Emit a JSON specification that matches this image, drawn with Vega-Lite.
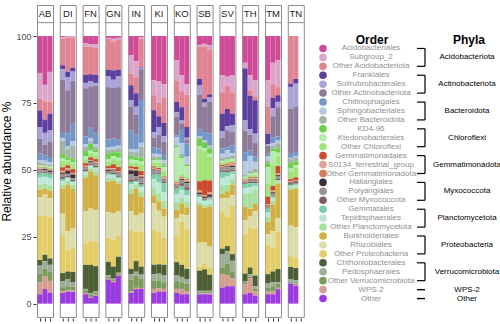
{
"$schema": "https://vega.github.io/schema/vega-lite/v6.json",
"padding": {"left": 0, "top": 4, "right": 0, "bottom": 0},
"config": {"font": "Liberation Sans", "view": {"stroke": "#8c8c8c"}},
"datasets": {
"taxa": [
{"code":"k01","taxon":"Acidobacteriales"},{"code":"k02","taxon":"Subgroup_2"},{"code":"k03","taxon":"Other Acidobacteriota"},
{"code":"k04","taxon":"Frankiales"},{"code":"k05","taxon":"Solirubrobacterales"},{"code":"k06","taxon":"Other Actinobacteriota"},
{"code":"k07","taxon":"Chitinophagales"},{"code":"k08","taxon":"Sphingobacteriales"},{"code":"k09","taxon":"Other Bacteroidota"},
{"code":"k10","taxon":"KD4-96"},{"code":"k11","taxon":"Ktedonobacterales"},{"code":"k12","taxon":"Other Chloroflexi"},
{"code":"k13","taxon":"Gemmatimonadales"},{"code":"k14","taxon":"S0134_terrestrial_group"},{"code":"k15","taxon":"Other Gemmatimonadota"},
{"code":"k16","taxon":"Haliangiales"},{"code":"k17","taxon":"Polyangiales"},{"code":"k18","taxon":"Other Myxococcota"},
{"code":"k19","taxon":"Gemmatales"},{"code":"k20","taxon":"Tepidisphaerales"},{"code":"k21","taxon":"Other Planctomycetota"},
{"code":"k22","taxon":"Burkholderiales"},{"code":"k23","taxon":"Rhizobiales"},{"code":"k24","taxon":"Other Proteobacteria"},
{"code":"k25","taxon":"Chthoniobacterales"},{"code":"k26","taxon":"Pedosphaerales"},{"code":"k27","taxon":"Other Verrucomicrobiota"},
{"code":"k28","taxon":"WPS-2"},{"code":"k29","taxon":"Other"}
],
"phyla": [
{"phylum":"Acidobacteriota","first":"Acidobacteriales","mid":"Subgroup_2","last":"Other Acidobacteriota"},
{"phylum":"Actinobacteriota","first":"Frankiales","mid":"Solirubrobacterales","last":"Other Actinobacteriota"},
{"phylum":"Bacteroidota","first":"Chitinophagales","mid":"Sphingobacteriales","last":"Other Bacteroidota"},
{"phylum":"Chloroflexi","first":"KD4-96","mid":"Ktedonobacterales","last":"Other Chloroflexi"},
{"phylum":"Gemmatimonadota","first":"Gemmatimonadales","mid":"S0134_terrestrial_group","last":"Other Gemmatimonadota"},
{"phylum":"Myxococcota","first":"Haliangiales","mid":"Polyangiales","last":"Other Myxococcota"},
{"phylum":"Planctomycetota","first":"Gemmatales","mid":"Tepidisphaerales","last":"Other Planctomycetota"},
{"phylum":"Proteobacteria","first":"Burkholderiales","mid":"Rhizobiales","last":"Other Proteobacteria"},
{"phylum":"Verrucomicrobiota","first":"Chthoniobacterales","mid":"Pedosphaerales","last":"Other Verrucomicrobiota"},
{"phylum":"WPS-2","first":"WPS-2","mid":"WPS-2","last":"WPS-2"},
{"phylum":"Other","first":"Other","mid":"Other","last":"Other"}
],
"bars": [
{"site":"AB","n":1,"k01":13.8,"k02":9.6,"k03":4.4,"k04":6.2,"k05":4.4,"k06":5.5,"k07":2.5,"k08":1.0,"k09":0.8,"k10":0.2,"k11":0.3,"k12":0.5,"k13":0.2,"k14":0.3,"k15":0.2,"k16":0.3,"k17":0.8,"k18":0.4,"k19":1.5,"k20":2.5,"k21":2,"k22":2.9,"k23":6.9,"k24":16.5,"k25":2.1,"k26":2.9,"k27":3.4,"k28":4.4,"k29":3.5},
{"site":"AB","n":2,"k01":18.4,"k02":6.2,"k03":6.9,"k04":5,"k05":4.5,"k06":4.1,"k07":1.9,"k08":1.2,"k09":0.6,"k10":0.2,"k11":0.3,"k12":0.3,"k13":0.2,"k14":0.2,"k15":0.1,"k16":0.4,"k17":0.7,"k18":0.4,"k19":1.5,"k20":2.5,"k21":2,"k22":2.2,"k23":8,"k24":14.7,"k25":2.4,"k26":2.8,"k27":3,"k28":4.7,"k29":5.5},
{"site":"AB","n":3,"k01":13.4,"k02":11.2,"k03":4.4,"k04":6.3,"k05":4.3,"k06":5.6,"k07":2,"k08":0.8,"k09":0.6,"k10":0.2,"k11":0.3,"k12":0.8,"k13":0.2,"k14":0.1,"k15":0.1,"k16":0.5,"k17":0.6,"k18":0.4,"k19":1.5,"k20":2.5,"k21":2,"k22":2.8,"k23":7,"k24":15.5,"k25":2.4,"k26":2.7,"k27":3.3,"k28":4.5,"k29":4},
{"site":"DI","n":1,"k01":0.5,"k02":0.5,"k03":10,"k04":1.5,"k05":4,"k06":20,"k07":2,"k08":1,"k09":5,"k10":1.5,"k11":1,"k12":2.5,"k13":1.3,"k14":0.4,"k15":0.5,"k16":0.5,"k17":1,"k18":0.8,"k19":0.8,"k20":1.2,"k21":1.5,"k22":9.5,"k23":8,"k24":14.4,"k25":3,"k26":2.3,"k27":1.5,"k28":0.7,"k29":4},
{"site":"DI","n":2,"k01":0.2,"k02":0.3,"k03":12.8,"k04":2,"k05":5,"k06":16,"k07":5,"k08":1,"k09":3,"k10":1,"k11":0.5,"k12":1.5,"k13":1.2,"k14":0.3,"k15":0.5,"k16":1.2,"k17":0.7,"k18":0.5,"k19":0.5,"k20":0.8,"k21":1.5,"k22":17.5,"k23":7,"k24":8,"k25":3,"k26":2.5,"k27":1.5,"k28":0.5,"k29":4.5},
{"site":"DI","n":3,"k01":0.2,"k02":0.3,"k03":11.5,"k04":1.5,"k05":3.5,"k06":16,"k07":7,"k08":1.5,"k09":5,"k10":1.5,"k11":0.5,"k12":2,"k13":1.5,"k14":0.2,"k15":0.3,"k16":1.5,"k17":0.5,"k18":0.5,"k19":0.5,"k20":1,"k21":1.5,"k22":15,"k23":7.5,"k24":9,"k25":4,"k26":1.5,"k27":1.5,"k28":0.5,"k29":4.5},
{"site":"FN","n":1,"k01":2.8,"k02":1.2,"k03":10.5,"k04":3,"k05":2,"k06":18,"k07":3,"k08":1,"k09":1.5,"k10":2,"k11":1,"k12":1.5,"k13":1,"k14":0.3,"k15":0.4,"k16":0.3,"k17":0.5,"k18":0.5,"k19":0.5,"k20":1,"k21":1,"k22":12.5,"k23":12,"k24":8,"k25":9,"k26":0.5,"k27":1,"k28":0.5,"k29":3.5},
{"site":"FN","n":2,"k01":3,"k02":1,"k03":10.3,"k04":2.5,"k05":2,"k06":15.5,"k07":4,"k08":1,"k09":1,"k10":2.5,"k11":1,"k12":1.5,"k13":1,"k14":0.2,"k15":0.3,"k16":0.5,"k17":0.6,"k18":0.4,"k19":0.4,"k20":0.8,"k21":1,"k22":14,"k23":12,"k24":9,"k25":10.5,"k26":0.5,"k27":1,"k28":0.3,"k29":2.2},
{"site":"FN","n":3,"k01":3,"k02":1.5,"k03":10,"k04":3,"k05":1,"k06":18,"k07":4,"k08":1,"k09":1,"k10":1,"k11":1,"k12":1.5,"k13":1,"k14":0.3,"k15":0.4,"k16":0.3,"k17":0.5,"k18":0.5,"k19":0.5,"k20":1,"k21":1.5,"k22":13,"k23":12,"k24":9,"k25":9.5,"k26":0.5,"k27":0.7,"k28":0.3,"k29":3},
{"site":"GN","n":1,"k01":0.7,"k02":0.3,"k03":11.6,"k04":2.5,"k05":4,"k06":19.5,"k07":3,"k08":1,"k09":1.5,"k10":2,"k11":1,"k12":1.5,"k13":0.8,"k14":0.3,"k15":0.3,"k16":0.4,"k17":0.5,"k18":0.5,"k19":0.5,"k20":1,"k21":1.5,"k22":11.5,"k23":9.5,"k24":9,"k25":5,"k26":0.5,"k27":0.8,"k28":0.3,"k29":9},
{"site":"GN","n":2,"k01":1,"k02":1,"k03":10.8,"k04":3.5,"k05":3,"k06":19,"k07":3,"k08":1,"k09":1,"k10":1.5,"k11":1,"k12":2,"k13":1.5,"k14":0.3,"k15":0.3,"k16":0.3,"k17":0.8,"k18":0.5,"k19":0.5,"k20":1,"k21":1,"k22":12,"k23":10,"k24":10,"k25":4.5,"k26":0.5,"k27":0.5,"k28":0.3,"k29":8},
{"site":"GN","n":3,"k01":0.7,"k02":0.5,"k03":11.5,"k04":2.5,"k05":4,"k06":19.5,"k07":2.5,"k08":1,"k09":1.5,"k10":2,"k11":1,"k12":2.5,"k13":1.5,"k14":0.3,"k15":0.3,"k16":0.3,"k17":0.8,"k18":0.5,"k19":0.5,"k20":1,"k21":1,"k22":10.5,"k23":9,"k24":8,"k25":6,"k26":0.3,"k27":0.5,"k28":0.3,"k29":10.5},
{"site":"IN","n":1,"k01":7.2,"k02":6.8,"k03":4.4,"k04":5.6,"k05":2.5,"k06":8.7,"k07":7,"k08":1,"k09":1.5,"k10":1.5,"k11":1,"k12":1.5,"k13":0.8,"k14":0.3,"k15":0.4,"k16":1.5,"k17":2,"k18":0.8,"k19":1,"k20":1.5,"k21":2,"k22":6.5,"k23":7,"k24":14.5,"k25":2,"k26":2,"k27":4.5,"k28":0.5,"k29":4},
{"site":"IN","n":2,"k01":9.4,"k02":6,"k03":6,"k04":5,"k05":3,"k06":7.5,"k07":5.5,"k08":1,"k09":2,"k10":1,"k11":1,"k12":1.5,"k13":0.8,"k14":0.3,"k15":0.3,"k16":2,"k17":1,"k18":0.8,"k19":0.5,"k20":1,"k21":1.5,"k22":10,"k23":6,"k24":11,"k25":4,"k26":1.5,"k27":4.5,"k28":0.5,"k29":5.4},
{"site":"IN","n":3,"k01":0.5,"k02":0.5,"k03":10.5,"k04":0.3,"k05":0.5,"k06":11.5,"k07":16,"k08":1.5,"k09":4,"k10":1.5,"k11":1,"k12":2.5,"k13":1.5,"k14":0.3,"k15":0.5,"k16":0.5,"k17":1.5,"k18":0.8,"k19":1,"k20":1.5,"k21":2,"k22":6,"k23":7,"k24":13,"k25":3,"k26":1.5,"k27":3.5,"k28":0.3,"k29":5.5},
{"site":"KI","n":1,"k01":16.5,"k02":5.6,"k03":5.6,"k04":8.3,"k05":2,"k06":3.5,"k07":2.5,"k08":1,"k09":1,"k10":0.4,"k11":0.8,"k12":1.5,"k13":0.5,"k14":0.3,"k15":0.3,"k16":0.2,"k17":1,"k18":0.5,"k19":2,"k20":3,"k21":3,"k22":3,"k23":10,"k24":13,"k25":3.5,"k26":2.5,"k27":3,"k28":1.5,"k29":4},
{"site":"KI","n":2,"k01":17,"k02":8,"k03":5,"k04":4,"k05":3,"k06":5,"k07":2.2,"k08":0.8,"k09":1,"k10":0.3,"k11":1,"k12":2,"k13":0.4,"k14":0.3,"k15":0.3,"k16":0.2,"k17":0.8,"k18":0.5,"k19":3,"k20":4,"k21":3,"k22":3.5,"k23":8,"k24":12,"k25":3.5,"k26":2.5,"k27":3,"k28":1.2,"k29":4.5},
{"site":"KI","n":3,"k01":18,"k02":5,"k03":9.5,"k04":5,"k05":2,"k06":5,"k07":2,"k08":1,"k09":1,"k10":0.5,"k11":1.5,"k12":2,"k13":0.4,"k14":0.3,"k15":0.3,"k16":0.2,"k17":0.8,"k18":0.5,"k19":3.5,"k20":3,"k21":3,"k22":3,"k23":8,"k24":10,"k25":4,"k26":2.5,"k27":2.5,"k28":1,"k29":4.5},
{"site":"KO","n":1,"k01":9,"k02":7.6,"k03":8,"k04":3.8,"k05":1.8,"k06":7,"k07":0.5,"k08":3,"k09":0.5,"k10":0.5,"k11":12,"k12":1,"k13":0.3,"k14":0.3,"k15":0.3,"k16":0.2,"k17":0.7,"k18":0.5,"k19":2,"k20":3,"k21":3,"k22":3,"k23":6.5,"k24":10,"k25":5,"k26":2,"k27":3,"k28":1.5,"k29":4},
{"site":"KO","n":2,"k01":14.6,"k02":6,"k03":6,"k04":5,"k05":1,"k06":2.5,"k07":5,"k08":4,"k09":1,"k10":0.5,"k11":6,"k12":1,"k13":0.3,"k14":0.3,"k15":0.3,"k16":0.5,"k17":1,"k18":1,"k19":1.5,"k20":3,"k21":2,"k22":4,"k23":3,"k24":16,"k25":4.5,"k26":2,"k27":2.5,"k28":2,"k29":3.5},
{"site":"KO","n":3,"k01":18,"k02":4,"k03":12,"k04":4,"k05":0.6,"k06":1.5,"k07":5,"k08":2.5,"k09":0.5,"k10":0.5,"k11":4,"k12":1,"k13":0.3,"k14":0.3,"k15":0.3,"k16":0.5,"k17":1.5,"k18":1,"k19":2,"k20":2.5,"k21":2,"k22":3,"k23":5,"k24":15,"k25":4,"k26":1.5,"k27":3,"k28":1,"k29":3.5},
{"site":"SB","n":1,"k01":3.3,"k02":0.7,"k03":12,"k04":2.5,"k05":3.5,"k06":13,"k07":2.5,"k08":0.3,"k09":0.5,"k10":3,"k11":1,"k12":12,"k13":3.5,"k14":0.3,"k15":0.5,"k16":0.5,"k17":0.3,"k18":0.3,"k19":0.5,"k20":2,"k21":1,"k22":14,"k23":9,"k24":1.5,"k25":7.5,"k26":0.5,"k27":0.5,"k28":0.3,"k29":3.5},
{"site":"SB","n":2,"k01":2.9,"k02":1,"k03":19.5,"k04":1.5,"k05":1.5,"k06":9.5,"k07":3,"k08":0.5,"k09":0.5,"k10":2,"k11":1,"k12":11,"k13":5.5,"k14":0.3,"k15":0.5,"k16":0.4,"k17":0.3,"k18":0.3,"k19":0.5,"k20":1.5,"k21":1,"k22":13,"k23":8,"k24":2,"k25":8,"k26":0.5,"k27":0.5,"k28":0.3,"k29":3.5},
{"site":"SB","n":3,"k01":3.5,"k02":1.5,"k03":16.8,"k04":1.2,"k05":1.5,"k06":12,"k07":4.5,"k08":0.5,"k09":0.5,"k10":2,"k11":1,"k12":9,"k13":4.5,"k14":0.3,"k15":0.5,"k16":0.8,"k17":0.3,"k18":0.3,"k19":0.5,"k20":1.5,"k21":1,"k22":15,"k23":8,"k24":2.5,"k25":6,"k26":0.5,"k27":0.5,"k28":0.3,"k29":3.5},
{"site":"SV","n":1,"k01":14.7,"k02":6.3,"k03":8,"k04":6.5,"k05":2.5,"k06":4,"k07":2,"k08":1.5,"k09":1,"k10":0.2,"k11":0.5,"k12":1,"k13":0.4,"k14":0.3,"k15":0.3,"k16":0.3,"k17":1,"k18":0.5,"k19":2,"k20":3,"k21":3,"k22":1.5,"k23":5,"k24":14,"k25":2,"k26":5,"k27":2.5,"k28":5,"k29":6},
{"site":"SV","n":2,"k01":15.2,"k02":3.5,"k03":8.5,"k04":6.5,"k05":1.5,"k06":6.5,"k07":1,"k08":2.5,"k09":0.8,"k10":0.2,"k11":0.5,"k12":1,"k13":0.4,"k14":0.3,"k15":0.3,"k16":0.3,"k17":1.2,"k18":0.8,"k19":1.5,"k20":3,"k21":2.5,"k22":2.5,"k23":7,"k24":11,"k25":2,"k26":4.5,"k27":4.5,"k28":4,"k29":6.5},
{"site":"SV","n":3,"k01":14.7,"k02":6.3,"k03":8,"k04":4.3,"k05":2.5,"k06":5,"k07":3,"k08":1,"k09":1,"k10":0.2,"k11":0.5,"k12":0.8,"k13":0.4,"k14":0.3,"k15":0.5,"k16":0.5,"k17":1,"k18":0.5,"k19":1,"k20":2,"k21":2,"k22":4,"k23":4,"k24":18,"k25":2.5,"k26":4,"k27":2.5,"k28":3,"k29":6.5},
{"site":"TH","n":1,"k01":10,"k02":2,"k03":0.1,"k04":19.3,"k05":4,"k06":8,"k07":3.5,"k08":5,"k09":0.5,"k10":0.2,"k11":0.5,"k12":0.5,"k13":0.3,"k14":0.3,"k15":0.3,"k16":0.2,"k17":0.3,"k18":0.3,"k19":1.5,"k20":2,"k21":5,"k22":5,"k23":5,"k24":15,"k25":3,"k26":0.5,"k27":0.5,"k28":3.7,"k29":3.5},
{"site":"TH","n":2,"k01":14.7,"k02":5.6,"k03":2,"k04":12.5,"k05":2,"k06":6,"k07":2,"k08":5.5,"k09":1,"k10":0.2,"k11":0.5,"k12":0.8,"k13":0.3,"k14":0.3,"k15":0.3,"k16":0.3,"k17":0.5,"k18":0.5,"k19":1.5,"k20":2,"k21":6,"k22":3,"k23":4,"k24":15,"k25":2.5,"k26":1,"k27":0.5,"k28":5.5,"k29":4},
{"site":"TH","n":3,"k01":16.5,"k02":6,"k03":1.5,"k04":12.5,"k05":3.5,"k06":5,"k07":2,"k08":2.5,"k09":1.5,"k10":0.3,"k11":0.5,"k12":1,"k13":0.3,"k14":0.3,"k15":0.3,"k16":0.3,"k17":0.5,"k18":0.5,"k19":1,"k20":1.5,"k21":5,"k22":3,"k23":6.5,"k24":17.5,"k25":4,"k26":1,"k27":1,"k28":1.5,"k29":3},
{"site":"TM","n":1,"k01":16.5,"k02":10,"k03":10,"k04":4,"k05":0.5,"k06":3,"k07":1,"k08":1.5,"k09":1,"k10":1.5,"k11":6,"k12":5,"k13":2.8,"k14":0.3,"k15":0.3,"k16":0.3,"k17":0.5,"k18":0.3,"k19":1.5,"k20":1.5,"k21":2,"k22":4.5,"k23":4,"k24":11,"k25":3.5,"k26":1.5,"k27":1.5,"k28":1,"k29":3.5},
{"site":"TM","n":2,"k01":10,"k02":8,"k03":5,"k04":4,"k05":3,"k06":8,"k07":2,"k08":1,"k09":1,"k10":1,"k11":5,"k12":8,"k13":1.8,"k14":0.3,"k15":0.3,"k16":0.5,"k17":0.5,"k18":0.3,"k19":0.8,"k20":1,"k21":1.5,"k22":10,"k23":6,"k24":9,"k25":4,"k26":1.5,"k27":2,"k28":1,"k29":3.5},
{"site":"TM","n":3,"k01":9.1,"k02":10,"k03":3,"k04":2.5,"k05":2,"k06":11,"k07":1.5,"k08":1,"k09":2,"k10":1.5,"k11":1,"k12":4,"k13":2.8,"k14":0.3,"k15":0.3,"k16":0.3,"k17":1,"k18":0.5,"k19":0.3,"k20":0.5,"k21":0.5,"k22":13,"k23":5,"k24":14,"k25":5,"k26":0.5,"k27":1.5,"k28":0.5,"k29":5.4},
{"site":"TN","n":1,"k01":0,"k02":0,"k03":17.8,"k04":1.2,"k05":8.2,"k06":16.8,"k07":1.5,"k08":0.5,"k09":1.5,"k10":2,"k11":1,"k12":3,"k13":0.8,"k14":0.2,"k15":0.3,"k16":0.4,"k17":0.2,"k18":0.3,"k19":0.3,"k20":0.5,"k21":1,"k22":13.3,"k23":11.5,"k24":4,"k25":4.5,"k26":1.2,"k27":0.3,"k28":0.2,"k29":7.5},
{"site":"TN","n":2,"k01":0,"k02":0,"k03":16,"k04":1.8,"k05":8.5,"k06":17,"k07":1.5,"k08":0.5,"k09":1.5,"k10":1.5,"k11":1,"k12":3.5,"k13":1,"k14":0.2,"k15":0.3,"k16":0.5,"k17":0.3,"k18":0.3,"k19":0.3,"k20":0.5,"k21":0.8,"k22":14.5,"k23":11.5,"k24":3.7,"k25":4.5,"k26":1.5,"k27":0.5,"k28":0.2,"k29":6.6}
]
},
"hconcat": [
{
"data": {"name": "bars"},
"transform": [
{"fold": ["k01","k02","k03","k04","k05","k06","k07","k08","k09","k10","k11","k12","k13","k14","k15","k16","k17","k18","k19","k20","k21","k22","k23","k24","k25","k26","k27","k28","k29"], "as": ["code","pct"]},
{"lookup": "code", "from": {"data": {"name": "taxa"}, "key": "code", "fields": ["taxon"]}}
],
"facet": {"column": {"field": "site", "type": "nominal", "header": null}},
"spacing": 4.8,
"spec": {
"width": 16, "height": 312,
"layer": [
{"mark": {"type": "bar"},
"encoding": {
"x": {"field": "n", "type": "ordinal", "scale": {"paddingInner": 0, "paddingOuter": 0.1},
"axis": {"labels": false, "title": null, "domain": false, "ticks": true, "tickSize": 3, "tickColor": "#333333", "grid": false}},
"y": {"field": "pct", "type": "quantitative", "stack": "normalize",
"scale": {"domain": [-0.05, 1.116], "nice": false, "zero": false},
"axis": {"values": [0, 0.25, 0.5, 0.75, 1], "labelExpr": "round(datum.value*100)", "title": "Relative abundance %", "grid": false, "domain": false, "tickSize": 3, "tickColor": "#333333", "labelFontSize": 9, "labelColor": "#4d4d4d", "labelPadding": 2, "titleFontSize": 12, "titleFontWeight": "normal", "titleColor": "#000000", "titlePadding": 2}},
"color": {"field": "taxon", "type": "nominal", "legend": null,
"scale": {"domain": ["Acidobacteriales","Subgroup_2","Other Acidobacteriota","Frankiales","Solirubrobacterales","Other Actinobacteriota","Chitinophagales","Sphingobacteriales","Other Bacteroidota","KD4-96","Ktedonobacterales","Other Chloroflexi","Gemmatimonadales","S0134_terrestrial_group","Other Gemmatimonadota","Haliangiales","Polyangiales","Other Myxococcota","Gemmatales","Tepidisphaerales","Other Planctomycetota","Burkholderiales","Rhizobiales","Other Proteobacteria","Chthoniobacterales","Pedosphaerales","Other Verrucomicrobiota","WPS-2","Other"],
"range": ["#CF4B97","#DCA6CB","#E08491","#5C3F9E","#AAA3D6","#8E7B9A","#7396C8","#B5CBE3","#A3B4A7","#6AD146","#B4EBAE","#A3E47A","#C94A2D","#D9A697","#D87D57","#3E2E38","#9A9095","#7E5F61","#7CCEA9","#BDE8D9","#A9DF9F","#D3B043","#DCDDA6","#E2CD67","#4C5E33","#9EAE96","#7D9A5D","#D69E91","#9A3AE0"]}},
"order": {"field": "code", "sort": "descending"}
}},
{"transform": [{"filter": {"and": [{"field": "n", "equal": 1}, {"field": "code", "equal": "k01"}]}}],
"mark": {"type": "rule", "color": "#8c8c8c", "strokeWidth": 1},
"encoding": {"y": {"datum": 1.05}}},
{"transform": [{"filter": {"and": [{"field": "n", "equal": 1}, {"field": "code", "equal": "k01"}]}}],
"mark": {"type": "text", "fontSize": 9.5, "color": "#1a1a1a", "baseline": "middle", "align": "center"},
"encoding": {"y": {"datum": 1.083}, "text": {"field": "site"}}}
]
}
},
{
"width": 190, "height": 312,
"view": {"stroke": null},
"layer": [
{"data": {"name": "taxa"},
"mark": {"type": "point", "filled": true, "size": 58, "opacity": 1},
"encoding": {
"x": {"datum": 11, "type": "quantitative", "scale": {"domain": [0, 190], "nice": false, "zero": false}, "axis": null},
"y": {"field": "taxon", "type": "nominal", "axis": null,
"scale": {"type": "point", "range": [39, 298], "domain": ["Acidobacteriales","Subgroup_2","Other Acidobacteriota","Frankiales","Solirubrobacterales","Other Actinobacteriota","Chitinophagales","Sphingobacteriales","Other Bacteroidota","KD4-96","Ktedonobacterales","Other Chloroflexi","Gemmatimonadales","S0134_terrestrial_group","Other Gemmatimonadota","Haliangiales","Polyangiales","Other Myxococcota","Gemmatales","Tepidisphaerales","Other Planctomycetota","Burkholderiales","Rhizobiales","Other Proteobacteria","Chthoniobacterales","Pedosphaerales","Other Verrucomicrobiota","WPS-2","Other"]}},
"color": {"field": "taxon", "type": "nominal", "legend": null,
"scale": {"domain": ["Acidobacteriales","Subgroup_2","Other Acidobacteriota","Frankiales","Solirubrobacterales","Other Actinobacteriota","Chitinophagales","Sphingobacteriales","Other Bacteroidota","KD4-96","Ktedonobacterales","Other Chloroflexi","Gemmatimonadales","S0134_terrestrial_group","Other Gemmatimonadota","Haliangiales","Polyangiales","Other Myxococcota","Gemmatales","Tepidisphaerales","Other Planctomycetota","Burkholderiales","Rhizobiales","Other Proteobacteria","Chthoniobacterales","Pedosphaerales","Other Verrucomicrobiota","WPS-2","Other"],
"range": ["#CF4B97","#DCA6CB","#E08491","#5C3F9E","#AAA3D6","#8E7B9A","#7396C8","#B5CBE3","#A3B4A7","#6AD146","#B4EBAE","#A3E47A","#C94A2D","#D9A697","#D87D57","#3E2E38","#9A9095","#7E5F61","#7CCEA9","#BDE8D9","#A9DF9F","#D3B043","#DCDDA6","#E2CD67","#4C5E33","#9EAE96","#7D9A5D","#D69E91","#9A3AE0"]}}
}},
{"data": {"name": "taxa"},
"mark": {"type": "text", "fontSize": 8, "color": "#8f8f8f", "align": "center", "baseline": "middle"},
"encoding": {"x": {"datum": 59, "type": "quantitative"}, "y": {"field": "taxon", "type": "nominal"}, "text": {"field": "taxon"}}},
{"data": {"name": "phyla"},
"mark": {"type": "rule", "color": "#000000", "strokeWidth": 1.2},
"encoding": {"x": {"datum": 113, "type": "quantitative"}, "y": {"field": "first", "type": "nominal"}, "y2": {"field": "last"}}},
{"data": {"name": "phyla"},
"mark": {"type": "rule", "color": "#000000", "strokeWidth": 1.2},
"encoding": {"x": {"datum": 105, "type": "quantitative"}, "x2": {"datum": 113}, "y": {"field": "first", "type": "nominal"}}},
{"data": {"name": "phyla"},
"mark": {"type": "rule", "color": "#000000", "strokeWidth": 1.2},
"encoding": {"x": {"datum": 105, "type": "quantitative"}, "x2": {"datum": 113}, "y": {"field": "last", "type": "nominal"}}},
{"data": {"name": "phyla"},
"mark": {"type": "text", "fontSize": 8, "color": "#000000", "align": "center", "baseline": "middle"},
"encoding": {"x": {"datum": 155, "type": "quantitative"}, "y": {"field": "mid", "type": "nominal"}, "text": {"field": "phylum"}}},
{"data": {"values": [{"title": "Order", "anchor": "Acidobacteriales"}]},
"mark": {"type": "text", "fontSize": 12, "fontWeight": "bold", "color": "#000000", "align": "center", "baseline": "middle", "dy": -8.5},
"encoding": {"x": {"datum": 60, "type": "quantitative"}, "y": {"field": "anchor", "type": "nominal"}, "text": {"field": "title"}}},
{"data": {"values": [{"title": "Phyla", "anchor": "Acidobacteriales"}]},
"mark": {"type": "text", "fontSize": 12, "fontWeight": "bold", "color": "#000000", "align": "center", "baseline": "middle", "dy": -8.5},
"encoding": {"x": {"datum": 157, "type": "quantitative"}, "y": {"field": "anchor", "type": "nominal"}, "text": {"field": "title"}}}
]
}
],
"spacing": 7
}
